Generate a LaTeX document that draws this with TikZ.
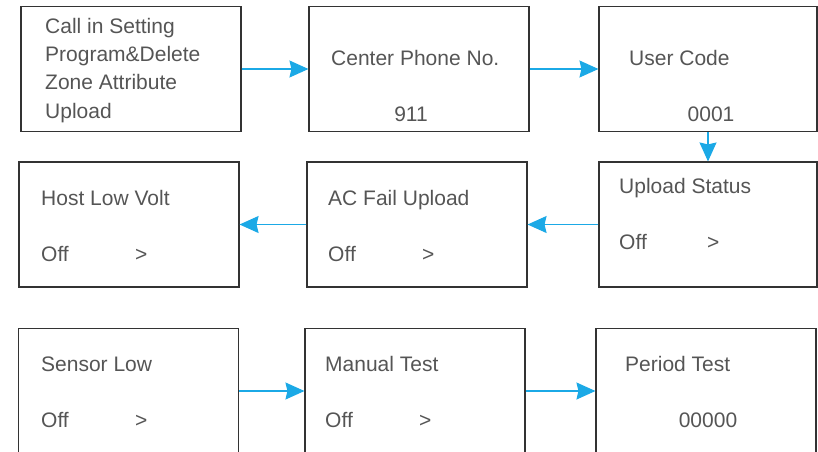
\documentclass[tikz,border=0pt]{standalone}
\usepackage{fontspec}
\setmainfont{Liberation Sans}
\usepackage{xcolor}
\usetikzlibrary{arrows.meta,positioning}
\definecolor{boxgray}{HTML}{333333}
\definecolor{txtgray}{HTML}{555555}
\definecolor{flowblue}{HTML}{1BA9E6}

\begin{document}
\begin{tikzpicture}[x=1pt, y=-1pt,
    menu/.style={draw=boxgray, line width=1.1pt, rectangle, minimum width=220pt, minimum height=125pt},
    menuR/.style={menu, minimum width=218pt},
    txt/.style={anchor=base west, inner sep=0pt, text=txtgray, font=\fontsize{21pt}{28pt}\selectfont},
    num/.style={anchor=base, inner sep=0pt, text=txtgray, font=\fontsize{21pt}{28pt}\selectfont},
    flow/.style={-{Stealth[length=19pt, width=17pt, inset=2pt]}, draw=flowblue, fill=flowblue, line width=1.2pt}]
    \useasboundingbox (0,0) rectangle (818,451);
    \clip (0,0) rectangle (818,451);

    % first row
    \node (callin) [menu] at (131,69) {};
    \node (phone) [menu] at (419,69) {};
    \node (usercode) [menuR] at (708,69) {};
    % second row
    \node (hostlow) [menu] at (129,224.5) {};
    \node (acfail) [menu] at (417,224.5) {};
    \node (upstatus) [menuR] at (708,224.5) {};
    % third row (cut at the bottom)
    \node (sensorlow) [menu] at (128.5,391) {};
    \node (manual) [menu] at (415,391) {};
    \node (period) [menu] at (706,391) {};

    % texts
    \node (t1) [txt] at (45,33) {Call in Setting};
    \node (t2) [txt] at (45,61.3) {Program\&Delete};
    \node (t3) [txt] at (45,89.6) {Zone Attribute};
    \node (t4) [txt] at (45,118) {Upload};
    \node (t5) [txt] at (331,65.5) {Center Phone No.};
    \node (t6) [num] at (411,121.5) {911};
    \node (t7) [txt] at (629,65.5) {User Code};
    \node (t8) [num] at (711,121.5) {0001};

    \node (t9) [txt] at (41,205) {Host Low Volt};
    \node (t10) [txt] at (41,261) {Off};
    \node (t11) [txt] at (135,261) {>};
    \node (t12) [txt] at (328,205) {AC Fail Upload};
    \node (t13) [txt] at (328,261) {Off};
    \node (t14) [txt] at (422,261) {>};
    \node (t15) [txt] at (619,193) {Upload Status};
    \node (t16) [txt] at (619,249) {Off};
    \node (t17) [txt] at (707,249) {>};

    \node (t18) [txt] at (41,371) {Sensor Low};
    \node (t19) [txt] at (41,427) {Off};
    \node (t20) [txt] at (135,427) {>};
    \node (t21) [txt] at (325,371) {Manual Test};
    \node (t22) [txt] at (325,427) {Off};
    \node (t23) [txt] at (419,427) {>};
    \node (t24) [txt] at (625,371) {Period Test};
    \node (t25) [num] at (708,427) {00000};

    \draw [flow] (callin) -- (phone);
    \draw [flow] (phone) -- (usercode);
    \draw [flow] (usercode) -- (upstatus);
    \draw [flow] (upstatus) -- (acfail);
    \draw [flow] (acfail) -- (hostlow);
    \draw [flow] (sensorlow) -- (manual);
    \draw [flow] (manual) -- (period);

\end{tikzpicture}
\end{document}
